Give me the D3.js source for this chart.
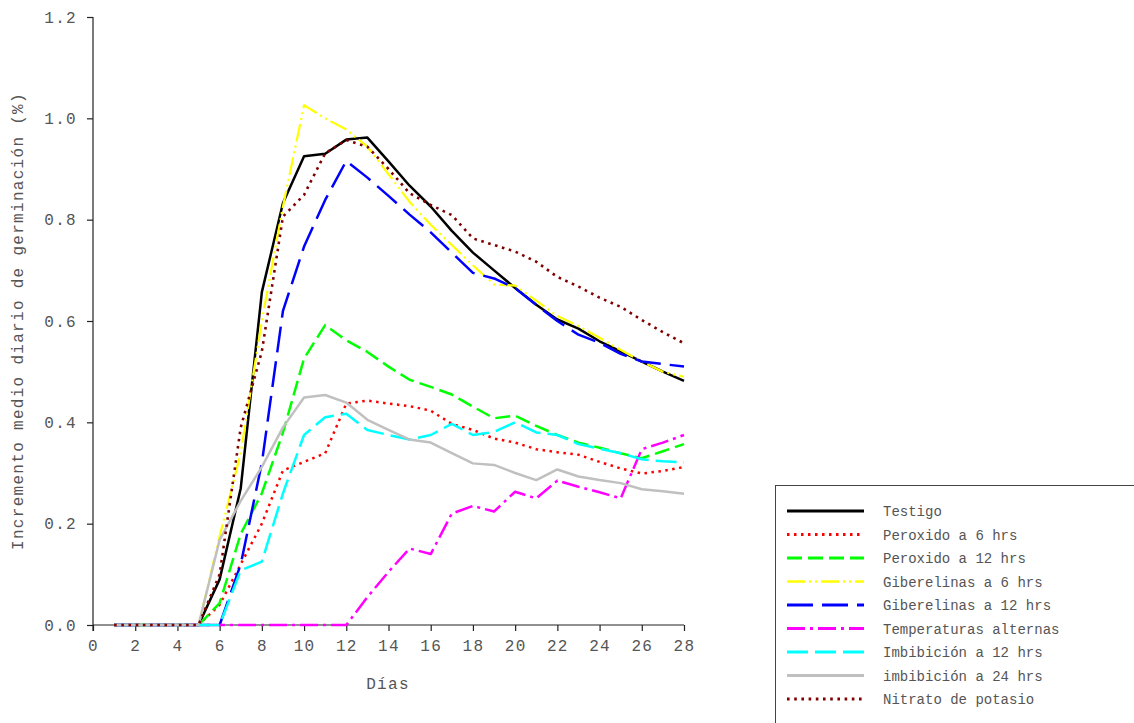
<!DOCTYPE html>
<html><head><meta charset="utf-8">
<script src="https://cdn.jsdelivr.net/npm/d3@7"></script>
<style>body{margin:0;background:#fff}svg{display:block}</style>
</head><body>
<svg id="c" width="1134" height="723"></svg>
<script>
const days = d3.range(1, 29);
const xTicks = [0,2,4,6,8,10,12,14,16,18,20,22,24,26,28];
const yTicks = [0,0.2,0.4,0.6,0.8,1.0,1.2];
const seriesNames = ["Testigo","Peroxido a 6 hrs","Peroxido a 12 hrs","Giberelinas a 6 hrs","Giberelinas a 12 hrs","Temperaturas alternas","Imbibición a 12 hrs","imbibición a 24 hrs","Nitrato de potasio"];
const testigo =      [0,0,0,0,0,0.09,0.27,0.657,0.833,0.925,0.93,0.958,0.962,0.915,0.867,0.826,0.778,0.735,0.70,0.665,0.632,0.603,0.585,0.56,0.54,0.52,0.50,0.482];
const peroxido6 =    [0,0,0,0,0,0.04,0.12,0.20,0.305,0.322,0.339,0.437,0.443,0.437,0.432,0.423,0.397,0.385,0.368,0.36,0.347,0.341,0.336,0.322,0.309,0.299,0.304,0.312];
const peroxido12 =   [0,0,0,0,0,0.043,0.18,0.26,0.38,0.526,0.592,0.562,0.539,0.51,0.484,0.47,0.455,0.431,0.408,0.413,0.393,0.375,0.36,0.35,0.339,0.329,0.343,0.357];
const giberelinas6 = [0,0,0,0,0,0.175,0.34,0.60,0.826,1.026,1.0,0.978,0.944,0.89,0.835,0.79,0.75,0.71,0.672,0.67,0.64,0.61,0.59,0.567,0.543,0.52,0.50,0.49];
const giberelinas12 =[0,0,0,0,0,0,0.12,0.32,0.62,0.747,0.839,0.916,0.883,0.847,0.81,0.775,0.735,0.695,0.684,0.665,0.632,0.60,0.573,0.557,0.535,0.52,0.515,0.51];
const temperaturas = [0,0,0,0,0,0,0,0,0,0,0,0,0.055,0.105,0.151,0.14,0.22,0.235,0.224,0.263,0.25,0.285,0.273,0.262,0.25,0.347,0.36,0.375];
const imbibicion12 = [0,0,0,0,0,0,0.108,0.125,0.26,0.375,0.41,0.417,0.385,0.375,0.366,0.375,0.397,0.375,0.381,0.40,0.38,0.375,0.357,0.348,0.339,0.327,0.323,0.321];
const imbibicion24 = [0,0,0,0,0,0.168,0.245,0.312,0.39,0.449,0.454,0.439,0.405,0.385,0.366,0.36,0.339,0.319,0.316,0.30,0.286,0.307,0.293,0.286,0.28,0.268,0.264,0.259];
const nitrato =      [0,0,0,0,0,0.10,0.39,0.54,0.806,0.849,0.931,0.957,0.944,0.90,0.852,0.829,0.809,0.763,0.75,0.737,0.717,0.687,0.668,0.646,0.628,0.602,0.578,0.556];

const values = [testigo,peroxido6,peroxido12,giberelinas6,giberelinas12,temperaturas,imbibicion12,imbibicion24,nitrato];
const styles = [
  {c:"#000000", w:2.5, d:null},
  {c:"#ff0000", w:2.5, d:"2.5,4.5"},
  {c:"#00ff00", w:2.5, d:"15,6"},
  {c:"#ffff00", w:2.2, d:"18,4,2,4,2,4"},
  {c:"#0000ff", w:2.5, d:"26,9"},
  {c:"#ff00ff", w:2.5, d:"18,5,3,5"},
  {c:"#00ffff", w:2.5, d:"21,7"},
  {c:"#c0c0c0", w:2.5, d:null},
  {c:"#800000", w:2.6, d:"2.6,4.6"}
];

const svg = d3.select("#c");
const x = d3.scaleLinear().domain([0,28]).range([93,684]);
const y = d3.scaleLinear().domain([0,1.2]).range([625,17]);
const FONT = "'Courier New','Liberation Mono',monospace";
const TXT = "#555";

// axes
const xAxis = svg.append("g").attr("transform","translate(0,625)")
  .call(d3.axisBottom(x).tickValues(xTicks).tickSize(6).tickPadding(9).tickFormat(d3.format("d")));
const yAxis = svg.append("g").attr("transform","translate(93,0)")
  .call(d3.axisLeft(y).tickValues(yTicks).tickSize(6).tickPadding(10).tickFormat(d3.format(".1f")));
[xAxis,yAxis].forEach(a=>{
  a.select(".domain").attr("stroke","#222").attr("stroke-width",1.2);
  a.selectAll(".tick line").attr("stroke","#222").attr("stroke-width",1.2);
  a.selectAll("text").attr("fill",TXT).style("font-family",FONT).style("font-size","16px").style("letter-spacing","1.3px");
});
xAxis.select(".domain").attr("d","M93,0H684");
yAxis.select(".domain").attr("d","M0,17V631");

// titles
svg.append("text").attr("x",388).attr("y",689).attr("text-anchor","middle")
  .attr("fill",TXT).style("font-family",FONT).style("font-size","16px").style("letter-spacing","1.3px").text("Días");
svg.append("text").attr("transform","translate(23,321) rotate(-90)").attr("text-anchor","middle")
  .attr("fill",TXT).style("font-family",FONT).style("font-size","16px").style("letter-spacing","1.3px")
  .text("Incremento medio diario de germinación (%)");

// lines
const line = d3.line().x((d,i)=>x(days[i])).y(d=>y(d));
values.forEach((v,k)=>{
  const s = styles[k];
  svg.append("path").datum(v).attr("d",line).attr("fill","none")
    .attr("stroke",s.c).attr("stroke-width",s.w).attr("stroke-dasharray",s.d)
    .attr("stroke-linejoin","round");
});

// legend
const lg = svg.append("g");
lg.append("rect").attr("x",775.5).attr("y",485.5).attr("width",400).attr("height",300)
  .attr("fill","none").attr("stroke","#444").attr("stroke-width",1);
const ly = d3.scalePoint().domain(seriesNames).range([511,699]);
seriesNames.forEach((n,k)=>{
  const s = styles[k];
  lg.append("line").attr("x1",787).attr("x2",864).attr("y1",ly(n)).attr("y2",ly(n))
    .attr("stroke",s.c).attr("stroke-width",s.w+0.5).attr("stroke-dasharray",s.d);
  lg.append("text").attr("x",883).attr("y",ly(n)+5).attr("fill",TXT)
    .style("font-family",FONT).style("font-size","14px").text(n);
});
</script>
</body></html>
